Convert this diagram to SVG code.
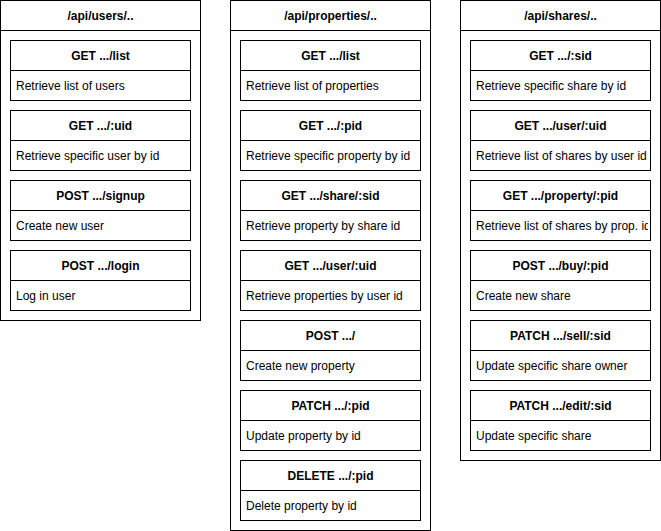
<svg xmlns="http://www.w3.org/2000/svg" width="661" height="531" viewBox="0 0 661 531">
<style>
rect,line{fill:#fff;stroke:#000;stroke-width:1}
line{fill:none}
text{font-family:"Liberation Sans",Arial,sans-serif;font-size:12px;fill:#000}
.h{font-weight:bold;text-anchor:middle}
</style>
<defs>
<clipPath id="c1"><rect x="470" y="250" width="180" height="60"/></clipPath>
</defs>
<rect width="661" height="531" fill="#fff" stroke="none" style="stroke:none"/>
<g id="users">
<rect x="0.5" y="0.5" width="200" height="320"/><line x1="0.5" y1="30.5" x2="200.5" y2="30.5"/>
<text class="h" x="100.5" y="19.5">/api/users/..</text>
<g id="u1"><rect x="10.5" y="40.5" width="180" height="60"/><line x1="10.5" y1="70.5" x2="190.5" y2="70.5"/><text class="h" x="100.5" y="59.5">GET .../list</text><text x="16" y="89.5">Retrieve list of users</text></g>
<g id="u2"><rect x="10.5" y="110.5" width="180" height="60"/><line x1="10.5" y1="140.5" x2="190.5" y2="140.5"/><text class="h" x="100.5" y="129.5">GET .../:uid</text><text x="16" y="159.5">Retrieve specific user by id</text></g>
<g id="u3"><rect x="10.5" y="180.5" width="180" height="60"/><line x1="10.5" y1="210.5" x2="190.5" y2="210.5"/><text class="h" x="100.5" y="199.5">POST .../signup</text><text x="16" y="229.5">Create new user</text></g>
<g id="u4"><rect x="10.5" y="250.5" width="180" height="60"/><line x1="10.5" y1="280.5" x2="190.5" y2="280.5"/><text class="h" x="100.5" y="269.5">POST .../login</text><text x="16" y="299.5">Log in user</text></g>
</g>
<g id="properties">
<rect x="230.5" y="0.5" width="200" height="530"/><line x1="230.5" y1="30.5" x2="430.5" y2="30.5"/>
<text class="h" x="330.5" y="19.5">/api/properties/..</text>
<g id="p1"><rect x="240.5" y="40.5" width="180" height="60"/><line x1="240.5" y1="70.5" x2="420.5" y2="70.5"/><text class="h" x="330.5" y="59.5">GET .../list</text><text x="246" y="89.5">Retrieve list of properties</text></g>
<g id="p2"><rect x="240.5" y="110.5" width="180" height="60"/><line x1="240.5" y1="140.5" x2="420.5" y2="140.5"/><text class="h" x="330.5" y="129.5">GET .../:pid</text><text x="246" y="159.5">Retrieve specific property by id</text></g>
<g id="p3"><rect x="240.5" y="180.5" width="180" height="60"/><line x1="240.5" y1="210.5" x2="420.5" y2="210.5"/><text class="h" x="330.5" y="199.5">GET .../share/:sid</text><text x="246" y="229.5">Retrieve property by share id</text></g>
<g id="p4"><rect x="240.5" y="250.5" width="180" height="60"/><line x1="240.5" y1="280.5" x2="420.5" y2="280.5"/><text class="h" x="330.5" y="269.5">GET .../user/:uid</text><text x="246" y="299.5">Retrieve properties by user id</text></g>
<g id="p5"><rect x="240.5" y="320.5" width="180" height="60"/><line x1="240.5" y1="350.5" x2="420.5" y2="350.5"/><text class="h" x="330.5" y="339.5">POST .../</text><text x="246" y="369.5">Create new property</text></g>
<g id="p6"><rect x="240.5" y="390.5" width="180" height="60"/><line x1="240.5" y1="420.5" x2="420.5" y2="420.5"/><text class="h" x="330.5" y="409.5">PATCH .../:pid</text><text x="246" y="439.5">Update property by id</text></g>
<g id="p7"><rect x="240.5" y="460.5" width="180" height="60"/><line x1="240.5" y1="490.5" x2="420.5" y2="490.5"/><text class="h" x="330.5" y="479.5">DELETE .../:pid</text><text x="246" y="509.5">Delete property by id</text></g>
</g>
<g id="shares">
<rect x="460.5" y="0.5" width="200" height="460"/><line x1="460.5" y1="30.5" x2="660.5" y2="30.5"/>
<text class="h" x="560.5" y="19.5">/api/shares/..</text>
<g id="s1"><rect x="470.5" y="40.5" width="180" height="60"/><line x1="470.5" y1="70.5" x2="650.5" y2="70.5"/><text class="h" x="560.5" y="59.5">GET .../:sid</text><text x="476" y="89.5">Retrieve specific share by id</text></g>
<g id="s2"><rect x="470.5" y="110.5" width="180" height="60"/><line x1="470.5" y1="140.5" x2="650.5" y2="140.5"/><text class="h" x="560.5" y="129.5">GET .../user/:uid</text><text x="476" y="159.5">Retrieve list of shares by user id</text></g>
<g id="s3"><rect x="470.5" y="180.5" width="180" height="60"/><line x1="470.5" y1="210.5" x2="650.5" y2="210.5"/><text class="h" x="560.5" y="199.5">GET .../property/:pid</text><text x="476" y="229.5" clip-path="url(#c3)">Retrieve list of shares by prop. id</text></g>
<g id="s4"><rect x="470.5" y="250.5" width="180" height="60"/><line x1="470.5" y1="280.5" x2="650.5" y2="280.5"/><text class="h" x="560.5" y="269.5">POST .../buy/:pid</text><text x="476" y="299.5">Create new share</text></g>
<g id="s5"><rect x="470.5" y="320.5" width="180" height="60"/><line x1="470.5" y1="350.5" x2="650.5" y2="350.5"/><text class="h" x="560.5" y="339.5">PATCH .../sell/:sid</text><text x="476" y="369.5">Update specific share owner</text></g>
<g id="s6"><rect x="470.5" y="390.5" width="180" height="60"/><line x1="470.5" y1="420.5" x2="650.5" y2="420.5"/><text class="h" x="560.5" y="409.5">PATCH .../edit/:sid</text><text x="476" y="439.5">Update specific share</text></g>
</g>
<clipPath id="c3"><rect x="470" y="211" width="178" height="29"/></clipPath>
</svg>
